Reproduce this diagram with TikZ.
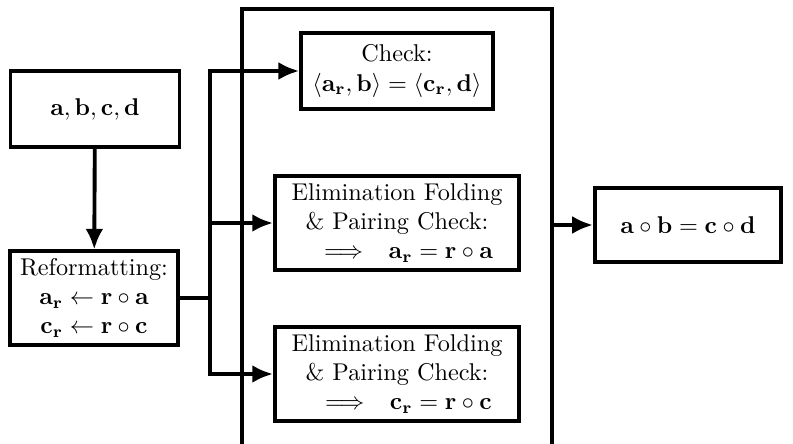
\documentclass[tikz,border=0pt]{standalone}
\usepackage{amsmath}
\usepackage{amssymb}
\usetikzlibrary{arrows.meta}

\tikzset{
    box/.style={draw, line width=1.6pt, align=center, inner sep=2pt},
    flow/.style={line width=1.6pt, -{Latex[length=3mm,width=2.6mm]}},
}

\begin{document}
\begin{tikzpicture}[x=0.0145cm, y=-0.0145cm]
    \useasboundingbox (0,0) rectangle (793,444);
    \clip (0,0) rectangle (793,444);
    % outer block for the checks
    \node[box, minimum width=4.5cm, minimum height=6.54cm] (group) at (397,234.5) {};
    % inputs and reformatting
    \node[box, minimum width=2.45cm, minimum height=1.1cm] (inputs) at (95,109) {$\mathbf{a},\mathbf{b},\mathbf{c},\mathbf{d}$};
    \node[box, minimum width=2.44cm, minimum height=1.35cm] (reform) at (94,298)
        {Reformatting:\\ $\mathbf{a_r}\leftarrow\mathbf{r}\circ\mathbf{a}$\\ $\mathbf{c_r}\leftarrow\mathbf{r}\circ\mathbf{c}$};
    % the three checks
    \node[box, minimum width=2.78cm, minimum height=1.1cm] (check) at (397,71)
        {Check:\\ $\langle\mathbf{a_r},\mathbf{b}\rangle=\langle\mathbf{c_r},\mathbf{d}\rangle$};
    \node[box, minimum width=3.54cm, minimum height=1.36cm] (elimA) at (397,223)
        {Elimination Folding\\ \& Pairing Check:\\ \ \ $\implies\ \,\mathbf{a_r}=\mathbf{r}\circ\mathbf{a}$};
    \node[box, minimum width=3.54cm, minimum height=1.36cm] (elimC) at (397,374)
        {Elimination Folding\\ \& Pairing Check:\\ \ \ $\implies\ \,\mathbf{c_r}=\mathbf{r}\circ\mathbf{c}$};
    % result
    \node[box, minimum width=2.7cm, minimum height=1.07cm] (result) at (688,225)
        {$\mathbf{a}\circ\mathbf{b}=\mathbf{c}\circ\mathbf{d}$};

    \draw[flow] (inputs) -- (reform);
    \draw[line width=1.6pt] (reform.east) -- ++(30,0) coordinate (split);
    \draw[flow] (split) |- (check.west);
    \draw[flow] (split) |- (elimA.west);
    \draw[flow] (split) |- (elimC.west);
    \draw[flow] (group.east |- result.west) -- (result.west);
\end{tikzpicture}
\end{document}
